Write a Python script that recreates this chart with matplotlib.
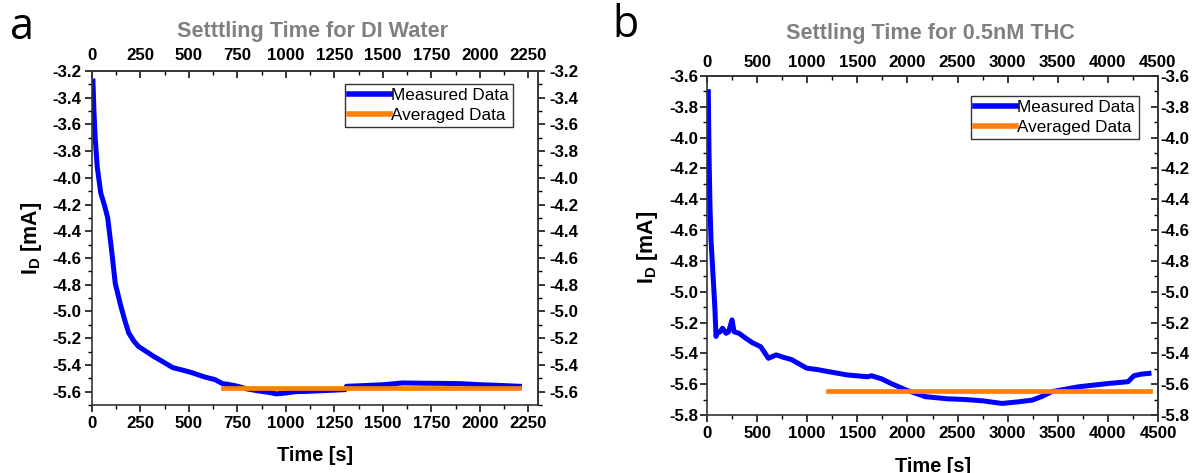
import matplotlib
matplotlib.use("Agg")
import matplotlib.pyplot as plt
from matplotlib.ticker import MultipleLocator, FormatStrFormatter

plt.rcParams['font.family'] = ['Liberation Sans', 'DejaVu Sans']
plt.rcParams['mathtext.fontset'] = 'custom'
plt.rcParams['mathtext.rm'] = 'Liberation Sans'
plt.rcParams['mathtext.bf'] = 'Liberation Sans:bold'
plt.rcParams['mathtext.it'] = 'Liberation Sans:italic'

# ---- Panel a: DI water ----
t_a = [5, 10, 17, 27, 45, 65, 81, 96, 104, 120, 149, 170, 189, 215, 239, 280, 318, 370, 416,
       470, 515, 580, 634, 673, 700, 752, 800, 860, 910, 950, 1000, 1050, 1108, 1200, 1305,
       1312, 1400, 1503, 1602, 1700, 1800, 1898, 2000, 2096, 2204]
i_a = [-3.275, -3.50, -3.716, -3.918, -4.112, -4.21, -4.30, -4.48, -4.58, -4.79, -4.962,
       -5.07, -5.16, -5.22, -5.261, -5.30, -5.336, -5.38, -5.42, -5.44, -5.458, -5.49, -5.51,
       -5.54, -5.545, -5.56, -5.58, -5.595, -5.605, -5.617, -5.61, -5.60, -5.598, -5.592,
       -5.585, -5.56, -5.555, -5.548, -5.535, -5.537, -5.538, -5.54, -5.548, -5.553, -5.56]
avg_a_t = [673, 2204]
avg_a_v = [-5.573, -5.573]

# ---- Panel b: 0.5nM THC ----
t_b = [13, 20, 30, 40, 59, 78, 90, 100, 130, 155, 190, 215, 250, 270, 320, 383, 450, 536,
       613, 690, 760, 842, 918, 995, 1100, 1223, 1400, 1605, 1640, 1740, 1835, 1987, 2179,
       2400, 2561, 2752, 2942, 3100, 3248, 3340, 3438, 3706, 4011, 4201, 4260, 4330, 4410]
i_b = [-3.702, -4.10, -4.45, -4.664, -4.88, -5.097, -5.29, -5.27, -5.26, -5.237, -5.27, -5.26,
       -5.183, -5.26, -5.27, -5.30, -5.33, -5.357, -5.432, -5.41, -5.425, -5.44, -5.468,
       -5.496, -5.505, -5.52, -5.54, -5.552, -5.545, -5.565, -5.595, -5.638, -5.681, -5.695,
       -5.699, -5.708, -5.725, -5.715, -5.703, -5.68, -5.649, -5.617, -5.595, -5.584,
       -5.545, -5.535, -5.53]
avg_b_t = [1204, 4420]
avg_b_v = [-5.642, -5.642]

BLUE = '#0000FF'
ORANGE = '#FF7F0E'
W, H = 1197, 473
TICK_FS = 12.2

fig = plt.figure(figsize=(W / 100, H / 100), dpi=100)


def px_axes(x0, y0, x1, y1):
    return fig.add_axes([x0 / W, 1 - y1 / H, (x1 - x0) / W, (y1 - y0) / H])


def style(ax, xlim, ylim, xmaj, xmin, right_dir, pads):
    pl, pb, pt, pr = pads
    ax.set_xlim(*xlim)
    ax.set_ylim(*ylim)
    ax.xaxis.set_major_locator(MultipleLocator(xmaj))
    ax.xaxis.set_minor_locator(MultipleLocator(xmin))
    ax.yaxis.set_major_locator(MultipleLocator(0.2))
    ax.yaxis.set_minor_locator(MultipleLocator(0.1))
    ax.tick_params(which='major', direction='out', length=5, width=1.1, labelsize=TICK_FS)
    ax.tick_params(which='minor', direction='out', length=3, width=1.0)
    ax.tick_params(axis='x', which='major', pad=pb)
    ax.tick_params(axis='y', which='major', pad=pl)
    for s in ax.spines.values():
        s.set_linewidth(1.2)
        s.set_color('#333333')
    sx = ax.secondary_xaxis('top')
    sx.xaxis.set_major_locator(MultipleLocator(xmaj))
    sx.xaxis.set_minor_locator(MultipleLocator(xmin))
    sx.tick_params(which='major', direction='in', length=5, width=1.1, labelsize=TICK_FS, pad=pt)
    sx.tick_params(which='minor', direction='in', length=3, width=1.0)
    sy = ax.secondary_yaxis('right')
    sy.yaxis.set_major_locator(MultipleLocator(0.2))
    sy.yaxis.set_minor_locator(MultipleLocator(0.1))
    sy.tick_params(which='major', direction=right_dir, length=5, width=1.1, labelsize=TICK_FS, pad=pr)
    sy.tick_params(which='minor', direction=right_dir, length=3, width=1.0)
    for sec in (sx, sy):
        for s in sec.spines.values():
            s.set_linewidth(1.2)
            s.set_color('#333333')
    ax.xaxis.set_major_formatter(FormatStrFormatter('%d'))
    sx.xaxis.set_major_formatter(FormatStrFormatter('%d'))
    ax.yaxis.set_major_formatter(FormatStrFormatter('%.1f'))
    sy.yaxis.set_major_formatter(FormatStrFormatter('%.1f'))
    for lab in (ax.get_xticklabels() + ax.get_yticklabels()
                + sx.get_xticklabels() + sy.get_yticklabels()):
        lab.set_fontweight('bold')
    return sx, sy


def legend(ax, x_right, y_top):
    leg = ax.legend(loc='upper right', bbox_to_anchor=(x_right / W, 1 - y_top / H),
                    bbox_transform=fig.transFigure, frameon=True, fancybox=False,
                    edgecolor='black', fontsize=12.3, handlelength=2.4, handletextpad=0.1,
                    borderpad=0.22, labelspacing=0.3, borderaxespad=0)
    leg.get_frame().set_linewidth(1.0)
    for ln in leg.get_lines():
        ln.set_linewidth(4)


# Panel a
axa = px_axes(92, 71, 538, 405)
axa.plot(t_a, i_a, color=BLUE, lw=3.6, label='Measured Data', solid_joinstyle='round')
axa.plot(avg_a_t, avg_a_v, color=ORANGE, lw=3.4, label='Averaged Data')
style(axa, (0, 2300), (-5.7, -3.2), 250, 125, 'out', pads=(3, 3, 5.5, 3.5))
legend(axa, 513, 84)

fig.text(313 / W, 1 - 32 / H, 'Setttling Time for DI Water', ha='center', va='center',
         fontsize=15.6, fontweight='bold', color='#808080')
fig.text(315 / W, 1 - 455 / H, 'Time [s]', ha='center', va='center',
         fontsize=14.4, fontweight='bold')
fig.text(32 / W, 1 - 238 / H, r'$\mathbf{I_D}$ $\mathbf{[mA]}$', ha='center', va='center',
         rotation=90, fontsize=15.5)
fig.text(22 / W, 1 - 28 / H, 'a', ha='center', va='center', fontsize=31,
         family=['Open Sans', 'DejaVu Sans'])

# Panel b
axb = px_axes(707, 76, 1158, 415)
axb.plot(t_b, i_b, color=BLUE, lw=3.6, label='Measured Data', solid_joinstyle='round')
axb.plot(avg_b_t, avg_b_v, color=ORANGE, lw=3.4, label='Averaged Data')
style(axb, (0, 4500), (-5.8, -3.6), 500, 250, 'in', pads=(1.5, 3, 4, 2))
legend(axb, 1139, 96)

fig.text(930 / W, 1 - 33 / H, 'Settling Time for 0.5nM THC', ha='center', va='center',
         fontsize=15.6, fontweight='bold', color='#808080')
fig.text(933 / W, 1 - 466 / H, 'Time [s]', ha='center', va='center',
         fontsize=14.4, fontweight='bold')
fig.text(648 / W, 1 - 247 / H, r'$\mathbf{I_D}$ $\mathbf{[mA]}$', ha='center', va='center',
         rotation=90, fontsize=15.5)
fig.text(626 / W, 1 - 26 / H, 'b', ha='center', va='center', fontsize=31,
         family=['Open Sans', 'DejaVu Sans'])

fig.savefig('out.png', dpi=100)
